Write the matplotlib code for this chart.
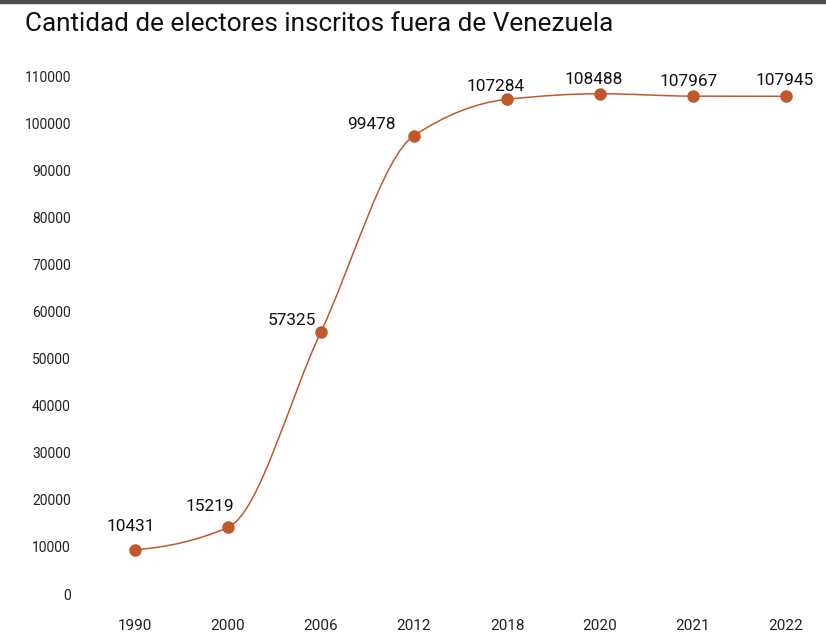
import matplotlib
matplotlib.use("Agg")
import matplotlib.pyplot as plt
from matplotlib.path import Path
from matplotlib.patches import PathPatch, Rectangle
import numpy as np

plt.rcParams['font.family'] = ['Roboto', 'DejaVu Sans']

title = "Cantidad de electores inscritos fuera de Venezuela"
years = ["1990", "2000", "2006", "2012", "2018", "2020", "2021", "2022"]
electores = [10431, 15219, 57325, 99478, 107284, 108488, 107967, 107945]
yticks = [0, 10000, 20000, 30000, 40000, 50000, 60000, 70000, 80000, 90000, 100000, 110000]

# label offsets (pixels) relative to each point -- styling only
label_dx = [-4, -18, -29, -43, -11, -6, -4, -1]
label_dy = [23, 21, 11, 11, 13, 14, 15, 16]

COLOR = "#c0592a"
W, H = 826, 637
fig = plt.figure(figsize=(W / 100, H / 100), dpi=100)
fig.patches.append(Rectangle((0, 1 - 3 / H), 1, 3 / H, transform=fig.transFigure,
                             color="#4d4d4d", zorder=10))

x0, x7 = 135, 786
sp = (x7 - x0) / 7
left = x0 - 0.45 * sp
right = x7 + 0.4 * sp
bottom_px, top_px = 598.2, 86.7
ax = fig.add_axes([left / W, 1 - bottom_px / H, (right - left) / W, (bottom_px - top_px) / H])
ax.set_xlim(-0.45, 7.4)
ax.set_ylim(0, 110000)

# separate axis hosting the y tick labels (drawn at the reference's label spacing)
lb_bottom, lb_top = 594, 76
axl = fig.add_axes([left / W, 1 - lb_bottom / H, (right - left) / W, (lb_bottom - lb_top) / H])
axl.set_ylim(0, 110000)
axl.patch.set_visible(False)
for s in axl.spines.values():
    s.set_visible(False)
axl.set_xticks([])
axl.set_yticks(yticks)
axl.set_yticklabels([str(v) for v in yticks])
axl.tick_params(axis="y", length=0, labelsize=10, colors="#222222", pad=16)

xs = np.arange(len(years))
ys = np.array(electores, dtype=float)

# monotone cubic (Fritsch-Carlson) tangents -> Bezier path built from the data
n = len(xs)
d = np.diff(ys) / np.diff(xs)
m = np.zeros(n)
for i in range(1, n - 1):
    if d[i - 1] * d[i] <= 0:
        m[i] = 0
    else:
        m[i] = 2 / (1 / d[i - 1] + 1 / d[i])
m[0] = d[0] * 0.3
m[-1] = d[-1]
verts = [(xs[0], ys[0])]
codes = [Path.MOVETO]
for i in range(n - 1):
    h = xs[i + 1] - xs[i]
    c1 = (xs[i] + h / 3, ys[i] + m[i] * h / 3)
    c2 = (xs[i + 1] - h / 3, ys[i + 1] - m[i + 1] * h / 3)
    verts += [c1, c2, (xs[i + 1], ys[i + 1])]
    codes += [Path.CURVE4] * 3
ax.add_patch(PathPatch(Path(verts, codes), facecolor="none", edgecolor=COLOR, lw=1.1,
                       clip_on=False, zorder=2))
ax.plot(xs, ys, linestyle="none", marker="o", markersize=8, color=COLOR, clip_on=False, zorder=3)

for xi, yi, dx, dy in zip(xs, electores, label_dx, label_dy):
    ax.annotate(f"{yi}", (xi, yi), xytext=(dx * 0.72, dy * 0.72), textcoords="offset points",
                ha="center", va="center", fontsize=12.4, color="#111111")

ax.set_xticks(xs)
ax.set_xticklabels(years)
ax.set_yticks([])
ax.tick_params(axis="both", length=0, labelsize=11, colors="#222222")
ax.tick_params(axis="x", pad=15)
for s in ax.spines.values():
    s.set_visible(False)
ax.grid(False)

fig.text(25 / W, 1 - 24 / H, title, fontsize=18.8, color="#111111", ha="left", va="center")

fig.savefig("out.png", dpi=100)
